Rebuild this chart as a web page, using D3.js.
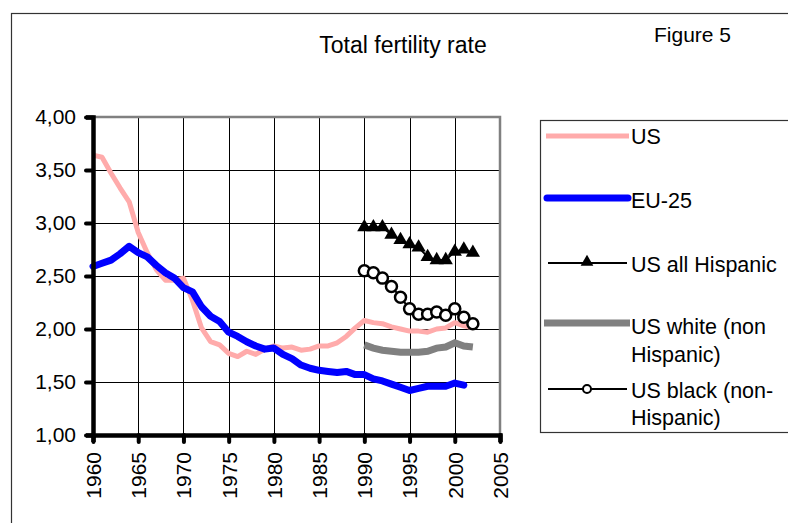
<!DOCTYPE html>
<html>
<head>
<meta charset="utf-8">
<script src="https://cdn.jsdelivr.net/npm/d3@7"></script>
<style>
  html, body { margin: 0; padding: 0; background: #fff; }
  svg { display: block; }
  text { font-family: "Liberation Sans", Arial, sans-serif; fill: #000; }
</style>
</head>
<body>
<script>
// ---- data ----
const usYears = d3.range(1960, 2003);
const usValues = [3.64, 3.62, 3.47, 3.33, 3.20, 2.91, 2.72, 2.56, 2.46, 2.46,
  2.48, 2.27, 2.01, 1.88, 1.85, 1.77, 1.74, 1.79, 1.76, 1.81,
  1.84, 1.82, 1.83, 1.80, 1.81, 1.84, 1.84, 1.87, 1.93, 2.01,
  2.08, 2.06, 2.05, 2.02, 2.00, 1.98, 1.98, 1.97, 2.00, 2.01,
  2.06, 2.03, 2.01];
const euYears = d3.range(1960, 2002);
const euValues = [2.59, 2.62, 2.65, 2.71, 2.78, 2.72, 2.68, 2.60, 2.53, 2.48,
  2.39, 2.35, 2.21, 2.12, 2.07, 1.97, 1.93, 1.88, 1.84, 1.81,
  1.82, 1.76, 1.72, 1.66, 1.63, 1.61, 1.60, 1.59, 1.60, 1.57,
  1.57, 1.53, 1.51, 1.48, 1.45, 1.42, 1.44, 1.46, 1.46, 1.46,
  1.49, 1.47];
const subYears = d3.range(1990, 2003);
const hispanicValues = [2.96, 2.96, 2.96, 2.89, 2.84, 2.80, 2.77, 2.68, 2.65, 2.65, 2.73, 2.75, 2.72];
const whiteValues = [1.85, 1.82, 1.80, 1.79, 1.78, 1.78, 1.78, 1.79, 1.82, 1.83, 1.87, 1.84, 1.83];
const blackValues = [2.55, 2.53, 2.48, 2.40, 2.30, 2.19, 2.14, 2.14, 2.16, 2.13, 2.19, 2.11, 2.05];
const xTicks = [1960, 1965, 1970, 1975, 1980, 1985, 1990, 1995, 2000, 2005];
const yTicks = [1.0, 1.5, 2.0, 2.5, 3.0, 3.5, 4.0];
const seriesNames = ["US", "EU-25", "US all Hispanic", "US white (non Hispanic)", "US black (non-Hispanic)"];
const titleText = "Total fertility rate";
const figureLabel = "Figure 5";

// ---- layout ----
const W = 788, H = 523;
const plot = { left: 93, right: 500, top: 117, bottom: 435 };
const FS = 21;

const svg = d3.select("body").append("svg").attr("width", W).attr("height", H);

// outer frame
svg.append("rect").attr("x", 11.5).attr("y", 13.5).attr("width", 820).attr("height", 600)
  .attr("fill", "none").attr("stroke", "#333").attr("stroke-width", 1.2);

const x = d3.scaleLinear().domain([1960, 2005]).range([plot.left, plot.right]);
const y = d3.scaleLinear().domain([1, 4]).range([plot.bottom, plot.top]);

// grid
const grid = svg.append("g");
grid.selectAll("line.h").data(yTicks.filter(d => d > 1 && d < 4)).join("line")
  .attr("x1", plot.left).attr("x2", plot.right)
  .attr("y1", d => Math.round(y(d)) + 0.5).attr("y2", d => Math.round(y(d)) + 0.5)
  .attr("stroke", "#000").attr("stroke-width", 1);
grid.selectAll("line.v").data(xTicks.filter(d => d > 1960 && d < 2005)).join("line")
  .attr("y1", plot.top).attr("y2", plot.bottom)
  .attr("x1", d => Math.round(x(d)) + 0.5).attr("x2", d => Math.round(x(d)) + 0.5)
  .attr("stroke", "#000").attr("stroke-width", 1);
// plot border top/right (gray)
grid.append("path")
  .attr("d", `M${plot.left},${y(4)}H${x(2005)}V${plot.bottom}`)
  .attr("fill", "none").attr("stroke", "#808080").attr("stroke-width", 2.5);

// series
const line = d3.line().x(d => x(d[0])).y(d => y(d[1]));
const zip = (a, b) => a.map((v, i) => [v, b[i]]);

svg.append("path").datum(zip(usYears, usValues)).attr("d", line)
  .attr("fill", "none").attr("stroke", "#ffabab").attr("stroke-width", 5)
  .attr("stroke-linejoin", "round");

svg.append("path").datum(zip(euYears, euValues)).attr("d", line)
  .attr("fill", "none").attr("stroke", "#0000ff").attr("stroke-width", 7)
  .attr("stroke-linejoin", "round").attr("stroke-linecap", "round");

const hisp = zip(subYears, hispanicValues);
svg.append("path").datum(hisp).attr("d", line)
  .attr("fill", "none").attr("stroke", "#000").attr("stroke-width", 2);
const tri = d3.symbol().type(d3.symbolTriangle).size(88);
svg.selectAll("path.tri").data(hisp).join("path")
  .attr("d", tri).attr("transform", d => `translate(${x(d[0])},${y(d[1])})`)
  .attr("fill", "#000");

svg.append("path").datum(zip(subYears, whiteValues)).attr("d", line)
  .attr("fill", "none").attr("stroke", "#808080").attr("stroke-width", 7);

const blk = zip(subYears, blackValues);
svg.append("path").datum(blk).attr("d", line)
  .attr("fill", "none").attr("stroke", "#000").attr("stroke-width", 2);
svg.selectAll("circle.blk").data(blk).join("circle")
  .attr("cx", d => x(d[0])).attr("cy", d => y(d[1])).attr("r", 5.5)
  .attr("fill", "#fff").attr("stroke", "#000").attr("stroke-width", 2.5);

// axes
const yAxis = svg.append("g").attr("transform", `translate(${plot.left},0)`)
  .call(d3.axisLeft(y).tickValues(yTicks).tickSize(7).tickPadding(10)
    .tickFormat(d => d.toFixed(2).replace(".", ",")));
yAxis.select(".domain").attr("stroke", "#000").attr("stroke-width", 4.5);
yAxis.selectAll(".tick line").attr("stroke", "#000").attr("stroke-width", 4).attr("stroke-linecap", "round");
yAxis.selectAll(".tick text").attr("font-size", FS).attr("font-family", "Liberation Sans, Arial, sans-serif");

const xAxis = svg.append("g").attr("transform", `translate(0,${plot.bottom})`)
  .call(d3.axisBottom(x).tickValues(xTicks).tickSize(7).tickFormat(d3.format("d")));
xAxis.select(".domain").attr("stroke", "#000").attr("stroke-width", 4.5);
xAxis.selectAll(".tick line").attr("stroke", "#000").attr("stroke-width", 4).attr("stroke-linecap", "round");
xAxis.selectAll(".tick text")
  .attr("font-size", FS).attr("font-family", "Liberation Sans, Arial, sans-serif")
  .attr("x", 0).attr("y", 0).attr("dy", "0.35em")
  .attr("text-anchor", "end")
  .attr("transform", "translate(0,17) rotate(-90)");

// titles
svg.append("text").attr("x", 403).attr("y", 53).attr("text-anchor", "middle")
  .attr("font-size", 23).text(titleText);
svg.append("text").attr("x", 654).attr("y", 42).attr("font-size", FS).text(figureLabel);

// legend
const lg = svg.append("g");
lg.append("rect").attr("x", 540.5).attr("y", 120.5).attr("width", 252).attr("height", 312)
  .attr("fill", "#fff").attr("stroke", "#333").attr("stroke-width", 1.2);

const lx1 = 546, lx2 = 629, tx = 631, LFS = 21.5;
// US
lg.append("line").attr("x1", lx1).attr("x2", lx2).attr("y1", 136).attr("y2", 136)
  .attr("stroke", "#ffabab").attr("stroke-width", 5);
lg.append("text").attr("x", tx).attr("y", 136).attr("dy", "0.35em").attr("font-size", LFS).text(seriesNames[0]);
// EU
lg.append("line").attr("x1", lx1 + 1).attr("x2", lx2 - 1).attr("y1", 198).attr("y2", 198)
  .attr("stroke", "#0000ff").attr("stroke-width", 7).attr("stroke-linecap", "round");
lg.append("text").attr("x", tx).attr("y", 200).attr("dy", "0.35em").attr("font-size", LFS).text(seriesNames[1]);
// Hispanic
lg.append("line").attr("x1", 548).attr("x2", 627).attr("y1", 263).attr("y2", 263)
  .attr("stroke", "#000").attr("stroke-width", 2);
lg.append("path").attr("d", d3.symbol().type(d3.symbolTriangle).size(70)).attr("transform", "translate(587,262)").attr("fill", "#000");
lg.append("text").attr("x", tx).attr("y", 264).attr("dy", "0.35em").attr("font-size", LFS).text(seriesNames[2]);
// White
lg.append("line").attr("x1", 544).attr("x2", 630).attr("y1", 323).attr("y2", 323)
  .attr("stroke", "#808080").attr("stroke-width", 7);
const wt = lg.append("text").attr("x", tx).attr("y", 326).attr("dy", "0.35em").attr("font-size", LFS);
wt.append("tspan").attr("x", tx).text("US white (non");
wt.append("tspan").attr("x", tx).attr("dy", 28).text("Hispanic)");
// Black
lg.append("line").attr("x1", 548).attr("x2", 627).attr("y1", 389).attr("y2", 389)
  .attr("stroke", "#000").attr("stroke-width", 2);
lg.append("circle").attr("cx", 587).attr("cy", 389).attr("r", 4)
  .attr("fill", "#fff").attr("stroke", "#000").attr("stroke-width", 2);
const bt = lg.append("text").attr("x", tx).attr("y", 390).attr("dy", "0.35em").attr("font-size", LFS);
bt.append("tspan").attr("x", tx).text("US black (non-");
bt.append("tspan").attr("x", tx).attr("dy", 27).text("Hispanic)");
</script>
</body>
</html>
